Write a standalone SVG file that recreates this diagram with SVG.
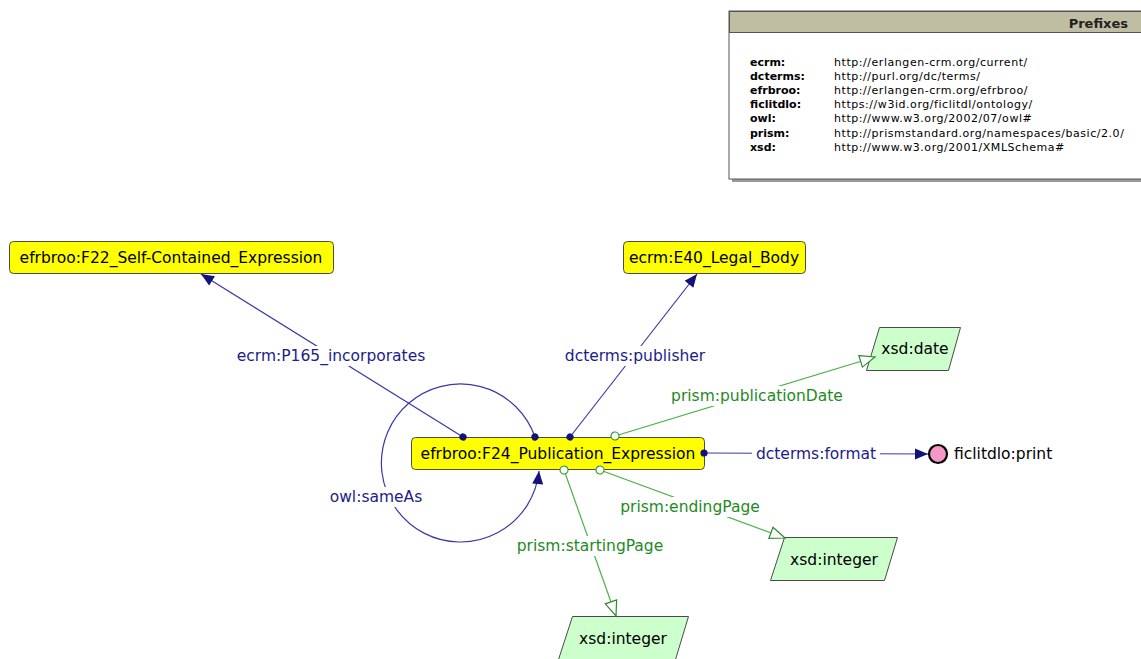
<svg xmlns="http://www.w3.org/2000/svg" width="1141" height="659" viewBox="0 0 1141 659">
  <defs>
    <style>
      text { font-family: "DejaVu Sans", "Liberation Sans", sans-serif; }
      .cls { fill: #ffff00; stroke: #4a4a4a; stroke-width: 1; }
      .lit { fill: #ccffcc; stroke: #4a4a4a; stroke-width: 1; }
      .ntext { font-size: 15.5px; fill: #000; text-anchor: middle; }
      .obj { stroke: #3a3aa8; stroke-width: 1.2; fill: none; }
      .dat { stroke: #4cb04c; stroke-width: 1.2; fill: none; }
      .bg { fill: #ffffff; }
      .olab { font-size: 15.5px; fill: #1c1c8a; text-anchor: middle; }
      .dlab { font-size: 15.5px; fill: #1e8a1e; text-anchor: middle; }
      .pk { font-size: 11px; font-weight: bold; fill: #000; }
      .pv { font-size: 11px; fill: #000; letter-spacing: 0.55px; }
    </style>
    <marker id="arrObj" markerUnits="userSpaceOnUse" markerWidth="16" markerHeight="14" refX="14" refY="7" orient="auto">
      <path d="M1,1.5 L14,7 L1,12.5 z" fill="#12127a"/>
    </marker>
    <marker id="arrDat" markerUnits="userSpaceOnUse" markerWidth="18" markerHeight="16" refX="16" refY="8" orient="auto">
      <path d="M1,2 L16,8 L1,14 z" fill="#fff" stroke="#2e8c2e" stroke-width="1.2"/>
    </marker>
    <marker id="dotObj" markerUnits="userSpaceOnUse" markerWidth="10" markerHeight="10" refX="5" refY="5" orient="auto">
      <circle cx="5" cy="5" r="3.6" fill="#12127a"/>
    </marker>
    <marker id="dotDat" markerUnits="userSpaceOnUse" markerWidth="12" markerHeight="12" refX="6" refY="6" orient="auto">
      <circle cx="6" cy="6" r="4" fill="#fff" stroke="#3a9a3a" stroke-width="1.2"/>
    </marker>
  </defs>

  <rect width="1141" height="659" fill="#ffffff"/>

  <!-- prefix legend -->
  <g id="prefixes">
    <rect x="732" y="14" width="420" height="168" fill="#9a9a9a"/>
    <rect x="729" y="11" width="420" height="168" fill="#ffffff" stroke="#555" stroke-width="1"/>
    <rect x="729.5" y="11.5" width="420" height="21" fill="#c0bea2" stroke="#555" stroke-width="1"/>
    <text x="1128" y="28" font-size="13" font-weight="bold" text-anchor="end" fill="#222">Prefixes</text>
    <text class="pk" x="750" y="66">ecrm:</text>
    <text class="pv" x="834" y="66">http://erlangen-crm.org/current/</text>
    <text class="pk" x="750" y="80">dcterms:</text>
    <text class="pv" x="834" y="80">http://purl.org/dc/terms/</text>
    <text class="pk" x="750" y="94">efrbroo:</text>
    <text class="pv" x="834" y="94">http://erlangen-crm.org/efrbroo/</text>
    <text class="pk" x="750" y="108">ficlitdlo:</text>
    <text class="pv" x="834" y="108">https://w3id.org/ficlitdl/ontology/</text>
    <text class="pk" x="750" y="122">owl:</text>
    <text class="pv" x="834" y="122">http://www.w3.org/2002/07/owl#</text>
    <text class="pk" x="750" y="137">prism:</text>
    <text class="pv" x="834" y="137">http://prismstandard.org/namespaces/basic/2.0/</text>
    <text class="pk" x="750" y="151">xsd:</text>
    <text class="pv" x="834" y="151">http://www.w3.org/2001/XMLSchema#</text>
  </g>

  <!-- class nodes -->
  <g id="node-f22">
    <rect class="cls" x="9.5" y="241.5" width="324" height="32" rx="4"/>
    <text class="ntext" x="171" y="263">efrbroo:F22_Self-Contained_Expression</text>
  </g>
  <g id="node-e40">
    <rect class="cls" x="623.5" y="241.5" width="182" height="32" rx="4"/>
    <text class="ntext" x="714" y="263">ecrm:E40_Legal_Body</text>
  </g>
  <g id="node-f24">
    <rect class="cls" x="411.5" y="437.5" width="293" height="32" rx="4"/>
    <text class="ntext" x="558" y="459">efrbroo:F24_Publication_Expression</text>
  </g>

  <!-- individual -->
  <g id="node-print">
    <circle cx="938" cy="454" r="9" fill="#f598c6" stroke="#000" stroke-width="2.2"/>
    <text x="954" y="459" font-size="15.5" fill="#000">ficlitdlo:print</text>
  </g>

  <!-- datatype nodes -->
  <g id="node-date">
    <polygon class="lit" points="879.5,327.5 960.5,327.5 948.5,370.5 866.5,370.5"/>
    <text class="ntext" x="915" y="354">xsd:date</text>
  </g>
  <g id="node-int-end">
    <polygon class="lit" points="784.5,537.5 897.5,537.5 884.5,580.5 770.5,580.5"/>
    <text class="ntext" x="834" y="565">xsd:integer</text>
  </g>
  <g id="node-int-start">
    <polygon class="lit" points="572.5,616.5 688.5,616.5 675.5,659.5 558.5,659.5"/>
    <text class="ntext" x="623" y="644">xsd:integer</text>
  </g>

  <!-- connectors, drawn over node borders so end dots stay visible -->
  <g id="edges">
    <line class="obj" x1="463" y1="437" x2="201" y2="274" marker-start="url(#dotObj)" marker-end="url(#arrObj)"/>
    <rect class="bg" x="234" y="346" width="194" height="20"/>
    <text class="olab" x="331" y="361">ecrm:P165_incorporates</text>

    <line class="obj" x1="570" y1="437" x2="697" y2="274" marker-start="url(#dotObj)" marker-end="url(#arrObj)"/>
    <rect class="bg" x="561" y="346" width="148" height="20"/>
    <text class="olab" x="635" y="361">dcterms:publisher</text>

    <path class="obj" d="M535,437 A79,79 0 1 0 539,471" marker-start="url(#dotObj)" marker-end="url(#arrObj)"/>
    <rect class="bg" x="327" y="487" width="98" height="20"/>
    <text class="olab" x="376" y="502">owl:sameAs</text>

    <line class="obj" x1="704" y1="453" x2="928" y2="454" marker-start="url(#dotObj)" marker-end="url(#arrObj)"/>
    <rect class="bg" x="752" y="444" width="128" height="20"/>
    <text class="olab" x="816" y="459">dcterms:format</text>

    <line class="dat" x1="615" y1="436" x2="875" y2="357" marker-start="url(#dotDat)" marker-end="url(#arrDat)"/>
    <rect class="bg" x="667" y="386" width="180" height="20"/>
    <text class="dlab" x="757" y="401">prism:publicationDate</text>

    <line class="dat" x1="600" y1="470" x2="785" y2="538" marker-start="url(#dotDat)" marker-end="url(#arrDat)"/>
    <rect class="bg" x="616" y="497" width="148" height="20"/>
    <text class="dlab" x="690" y="512">prism:endingPage</text>

    <line class="dat" x1="564" y1="470" x2="616" y2="616" marker-start="url(#dotDat)" marker-end="url(#arrDat)"/>
    <rect class="bg" x="513" y="536" width="154" height="20"/>
    <text class="dlab" x="590" y="551">prism:startingPage</text>
  </g>
</svg>
